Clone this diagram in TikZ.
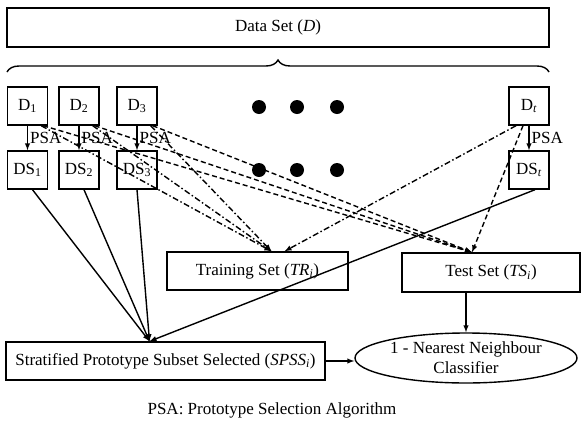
\documentclass[tikz,border=0pt]{standalone}
\usepackage{fontspec}
\setmainfont{Liberation Serif}
\usetikzlibrary{shapes.geometric, arrows, decorations.pathreplacing}
\tikzset{
    smallbox/.style = {
        rectangle, draw,
        minimum width=40pt,
        minimum height=38pt,
        inner sep=0pt
    },
    setbox/.style = {
        rectangle, draw,
        minimum height=38pt,
        align=center
    },
    blob/.style = {
        circle, fill, inner sep=0pt, minimum size=14pt
    },
    arrow/.style = {
        -latex
    },
    trline/.style = {
        -latex, dash pattern=on 6pt off 2.5pt on 1.5pt off 2.5pt
    },
    tsline/.style = {
        -latex, dash pattern=on 5pt off 3pt
    }
}

\begin{document}
\begin{tikzpicture}[x=1pt, y=-1pt, node distance=64pt, line width=1.4pt,
    font=\fontsize{17}{20}\selectfont]
\useasboundingbox (0,0) rectangle (581,421);

\node (data) [setbox, minimum width=542pt, minimum height=39pt] at (278,27.5) {Data Set (\textit{D})};
\draw [decorate, decoration={brace, amplitude=12pt}] (7,72) -- (549,72);

% subsets D_k and their selected prototypes DS_k
\node (d1) [smallbox] at (27.5,106) {D\textsubscript{1}};
\node (d2) [smallbox] at (79,106) {D\textsubscript{2}};
\node (d3) [smallbox] at (137,106) {D\textsubscript{3}};
\node (dt) [smallbox] at (529,106) {D\textsubscript{\textit{t}}};
\node (ds1) [smallbox, below of=d1] {DS\textsubscript{1}};
\node (ds2) [smallbox, below of=d2] {DS\textsubscript{2}};
\node (ds3) [smallbox, below of=d3] {DS\textsubscript{3}};
\node (dst) [smallbox, below of=dt] {DS\textsubscript{\textit{t}}};

\foreach \x in {259, 297, 337} {
    \node [blob] at (\x,107) {};
    \node [blob] at (\x,170) {};
}

\node (tr) [setbox, minimum width=181pt] at (257.5,271) {Training Set (\textit{TR}\textsubscript{\textit{i}})};
\node (ts) [setbox, minimum width=178pt, minimum height=39pt] at (491,272.5) {Test Set (\textit{TS}\textsubscript{\textit{i}})};
\node (spss) [setbox, minimum width=319pt] at (165.5,361)
    {Stratified Prototype Subset Selected (\textit{SPSS}\textsubscript{\textit{i}})};
\node (nn) [ellipse, draw, minimum width=222pt, minimum height=50pt, inner sep=0pt,
    align=center] at (466,358) {1 - Nearest Neighbour\\Classifier};

\node (note) at (272,410) {PSA: Prototype Selection Algorithm};

% prototype selection on every subset
\foreach \k in {1, 2, 3, t}
    \draw [arrow] (d\k) -- node[right, inner sep=2pt] {PSA} (ds\k);

% subsets feed training and test sets
\foreach \k in {1, 2, 3} {
    \draw [trline] ([xshift=-7pt]d\k.south east) -- ([xshift=14pt]tr.north);
    \draw [tsline] ([xshift=-5pt]d\k.south east) -- ([xshift=-19pt]ts.north);
}
\draw [trline] ([xshift=-13pt]dt.south) -- ([xshift=27pt]tr.north);
\draw [tsline] ([xshift=-6pt]dt.south) -- ([xshift=-19pt]ts.north);

% selected prototypes are merged
\draw [arrow] ([xshift=5pt]ds1.south) -- ([xshift=-16pt]spss.north);
\draw [arrow] ([xshift=5pt]ds2.south) -- ([xshift=-16pt]spss.north);
\draw [arrow] (ds3.south) -- ([xshift=-16pt]spss.north);
\draw [arrow] ([xshift=6pt]dst.south) -- ([xshift=-16pt]spss.north);

\draw [arrow] (ts.south -| nn.north) -- (nn.north);
\draw [arrow] (spss.east) -- (spss.east -| nn.west);

\end{tikzpicture}
\end{document}
